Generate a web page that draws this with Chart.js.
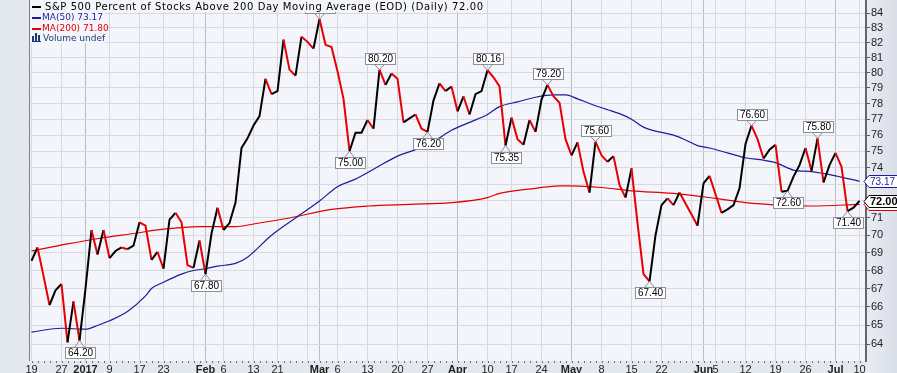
<!DOCTYPE html>
<html>
<head>
<meta charset="utf-8">
<script src="https://cdn.jsdelivr.net/npm/chart.js@4.4.1/dist/chart.umd.min.js"></script>
<style>
  html, body { margin: 0; padding: 0; background: #e3e7ee; }
  canvas { display: block; }
</style>
</head>
<body>
<canvas id="chart" width="897" height="373"></canvas>
<script>
// Daily closes, one per trading day from Dec 19 2016 to Jul 10 2017
const mainVals = [
  68.55, 69.3, 67.7, 66.1, 66.9, 67.25, 64.1, 66.3, 64.2, 67.0,
  70.3, 68.9, 70.3, 68.7, 69.1, 69.3, 69.2, 69.4, 70.75, 70.55,
  68.6, 69.05, 68.1, 70.9, 71.3, 70.75, 68.3, 68.15, 69.7, 67.8,
  70.1, 71.6, 70.3, 70.7, 71.9, 75.2, 75.8, 76.6, 77.2, 79.6,
  78.6, 78.8, 82.2, 80.2, 79.8, 82.4, 82.05, 81.6, 83.6, 81.85,
  81.7, 80.1, 78.3, 75.0, 76.15, 76.15, 76.95, 76.4, 80.2, 79.2,
  79.95, 79.6, 76.8, 77.05, 77.3, 76.4, 76.2, 78.2, 79.3, 78.8,
  79.1, 77.5, 78.45, 77.3, 78.6, 78.8, 80.16, 79.7, 79.1, 75.35,
  77.1, 75.75, 75.4, 76.95, 76.2, 78.25, 79.2, 78.45, 78.05, 75.75,
  74.75, 75.55, 73.75, 72.5, 75.6, 74.75, 74.35, 74.7, 72.95, 72.2,
  73.95, 70.7, 67.8, 67.4, 70.0, 71.75, 72.15, 71.75, 72.5, 71.85,
  71.2, 70.55, 73.05, 73.5, 72.4, 71.3, 71.5, 71.75, 72.75, 75.45,
  76.6, 75.75, 74.55, 75.1, 75.4, 72.55, 72.6, 73.45, 74.15, 75.2,
  73.8, 75.8, 73.1, 74.15, 74.9, 74.05, 71.4, 71.6, 72.0
];

// Moving averages read at selected days
const ma50Idx = [0, 5, 9, 11, 13, 16, 19, 20, 22, 25, 27, 29, 31, 34, 36, 40, 44, 48, 51, 54,
  57, 61, 64, 67, 70, 73, 76, 78, 81, 84, 87, 89, 91, 93, 96, 98, 100, 102, 104, 107,
  109, 111, 113, 116, 119, 122, 124, 127, 130, 134, 138];
const ma50Vals = [64.65, 64.85, 64.8, 65.0, 65.25, 65.75, 66.6, 67.0, 67.35, 67.8,
  68.0, 68.1, 68.25, 68.4, 68.75, 70.0, 71.0, 72.0, 72.85, 73.3,
  73.9, 74.7, 75.1, 75.6, 76.3, 76.8, 77.3, 77.8, 78.1, 78.4,
  78.55, 78.55, 78.3, 78.0, 77.6, 77.35, 77.0, 76.5, 76.25, 76.0,
  75.7, 75.35, 75.2, 74.9, 74.6, 74.45, 74.3, 73.85, 73.75, 73.5, 73.17];

const ma200Idx = [0, 6, 11, 17, 22, 28, 34, 37, 43, 50, 56, 63, 70, 76, 78, 84, 88, 90, 95, 100,
  107, 114, 119, 125, 130, 138];
const ma200Vals = [69.1, 69.5, 69.8, 70.1, 70.35, 70.5, 70.5, 70.65, 71.0, 71.5,
  71.7, 71.8, 71.9, 72.2, 72.45, 72.75, 72.9, 72.9, 72.8, 72.6,
  72.45, 72.15, 71.9, 71.75, 71.7, 71.8];

// x axis ticks (trading day index -> label)
const xTickIdx = [0, 5, 9, 13, 18, 22, 27, 29, 32, 37, 41, 46, 48, 51, 56, 61, 66, 71, 76, 80,
  85, 90, 95, 100, 105, 110, 112, 114, 119, 124, 129, 134, 138];
const xTickLabels = ['19', '27', '2017', '9', '17', '23', '', 'Feb', '6', '13', '21', '', 'Mar', '6', '13', '20', '27', 'Apr', '10', '17',
  '24', 'May', '8', '15', '22', '', 'Jun', '5', '12', '19', '26', 'Jul', '10'];
const boldLabels = ['2017', 'Feb', 'Mar', 'Apr', 'May', 'Jun', 'Jul'];

const yTicks = [64, 65, 66, 67, 68, 69, 70, 71, 72, 73, 74, 75, 76, 77, 78, 79, 80, 81, 82, 83, 84];

// high / low annotations
const markIdx = [8, 29, 48, 53, 58, 66, 76, 79, 86, 94, 103, 120, 126, 131, 136];
const markText = ['64.20', '67.80', '83.60', '75.00', '80.20', '76.20', '80.16', '75.35', '79.20', '75.60', '67.40', '76.60', '72.60', '75.80', '71.40'];
const markSide = ['below', 'below', 'above', 'below', 'above', 'below', 'above', 'below', 'above', 'above', 'below', 'above', 'below', 'above', 'below'];

const colors = {
  up: '#000000',
  down: '#e60000',
  ma50: '#1c1c9c',
  ma200: '#e00000',
  grid: '#d6d9e1',
  gridMonth: '#b9bdc8',
  plotBg: '#f4f5fa',
  outerBg: '#e3e7ee',
  volume: '#1d3a72'
};

const decorPlugin = {
  id: 'decor',
  beforeDraw(chart) {
    const { ctx, chartArea: a } = chart;
    ctx.save();
    ctx.fillStyle = colors.outerBg;
    ctx.fillRect(0, 0, chart.width, chart.height);
    const g = ctx.createLinearGradient(a.right, 0, chart.width, 0);
    g.addColorStop(0, '#e9ecf2');
    g.addColorStop(1, '#d9dee8');
    ctx.fillStyle = g;
    ctx.fillRect(a.right, 0, chart.width - a.right, chart.height);
    ctx.fillStyle = colors.plotBg;
    ctx.fillRect(a.left, a.top, a.right - a.left, a.bottom - a.top);
    ctx.restore();
  },
  afterDraw(chart) {
    const { ctx, chartArea: a } = chart;
    const xs = chart.scales.x, ys = chart.scales.y;
    ctx.save();

    // left border and daily dots on the bottom axis
    ctx.fillStyle = '#7a7e87';
    ctx.fillRect(a.left - 1, a.top, 1, a.bottom - a.top);
    ctx.fillStyle = '#6b6f78';
    for (let i = 0; i < mainVals.length; i++) {
      const px = Math.round(xs.getPixelForValue(i));
      ctx.fillRect(px, a.bottom, 1, 2);
    }

    // high / low boxes
    ctx.font = '10px "Liberation Sans"';
    ctx.lineWidth = 1;
    markIdx.forEach((i, k) => {
      const px = xs.getPixelForValue(i);
      const py = ys.getPixelForValue(mainVals[i]);
      const txt = markText[k];
      const w = Math.ceil(ctx.measureText(txt).width) + 4;
      const h = 11;
      const up = markSide[k] === 'above';
      const by = Math.round(up ? py - 6 - h : py + 6);
      const bx = Math.round(px - w / 2);
      const edge = up ? by + h : by;
      ctx.strokeStyle = '#8c9099';
      ctx.beginPath();
      ctx.moveTo(px - 5, edge + 0.5);
      ctx.lineTo(px, py);
      ctx.lineTo(px + 5, edge + 0.5);
      ctx.stroke();
      ctx.fillStyle = '#ffffff';
      ctx.fillRect(bx + 0.5, by + 0.5, w, h);
      ctx.strokeRect(bx + 0.5, by + 0.5, w, h);
      ctx.fillStyle = '#000000';
      ctx.textAlign = 'center';
      ctx.textBaseline = 'middle';
      ctx.fillText(txt, bx + 0.5 + w / 2, by + h / 2 + 1);
    });

    // value tags on the right axis
    const tag = (val, txt, stroke, bold) => {
      const y = Math.round(ys.getPixelForValue(val)) + 0.5;
      const x0 = a.right - 2;
      ctx.beginPath();
      ctx.moveTo(x0, y);
      ctx.lineTo(x0 + 5, y - 6);
      ctx.lineTo(chart.width + 2, y - 6);
      ctx.lineTo(chart.width + 2, y + 6);
      ctx.lineTo(x0 + 5, y + 6);
      ctx.closePath();
      ctx.fillStyle = '#ffffff';
      ctx.fill();
      ctx.strokeStyle = stroke;
      ctx.lineWidth = 1;
      ctx.stroke();
      ctx.fillStyle = stroke;
      ctx.font = (bold ? 'bold 11px' : '10px') + ' "Liberation Sans"';
      ctx.textAlign = 'left';
      ctx.textBaseline = 'middle';
      ctx.fillText(txt, x0 + 6, y + 0.5);
    };
    tag(ma200Vals[ma200Vals.length - 1], ma200Vals[ma200Vals.length - 1].toFixed(2), colors.ma200, false);
    tag(ma50Vals[ma50Vals.length - 1], ma50Vals[ma50Vals.length - 1].toFixed(2), colors.ma50, false);
    tag(mainVals[mainVals.length - 1], mainVals[mainVals.length - 1].toFixed(2), '#000000', true);

    // legend block
    const title = 'S&P 500 Percent of Stocks Above 200 Day Moving Average (EOD) (Daily) ' + mainVals[mainVals.length - 1].toFixed(2);
    ctx.fillStyle = colors.plotBg;
    ctx.fillRect(a.left, 0, 456, 12);
    ctx.fillRect(a.left, 12, 75, 31);
    ctx.textAlign = 'left';
    ctx.textBaseline = 'middle';
    ctx.font = '10px "DejaVu Sans"';
    const natural = ctx.measureText(title).width;
    if ('letterSpacing' in ctx) ctx.letterSpacing = ((438 - natural) / (title.length - 1)).toFixed(2) + 'px';
    ctx.fillStyle = '#000000';
    ctx.fillRect(32, 6, 9, 2);
    ctx.fillText(title, 45, 7.5);
    if ('letterSpacing' in ctx) ctx.letterSpacing = '0px';

    ctx.font = '9px "DejaVu Sans"';
    const rows = [
      ['MA(50) ' + ma50Vals[ma50Vals.length - 1].toFixed(2), colors.ma50, 17.5],
      ['MA(200) ' + ma200Vals[ma200Vals.length - 1].toFixed(2), colors.ma200, 28.5]
    ];
    rows.forEach(([txt, col, y]) => {
      ctx.fillStyle = col;
      ctx.fillRect(32, Math.round(y) - 1, 9, 2);
      ctx.fillText(txt, 42, y);
    });
    ctx.fillStyle = colors.volume;
    ctx.fillRect(32, 36, 2, 6);
    ctx.fillRect(35, 33, 2, 9);
    ctx.fillRect(38, 35, 2, 7);
    ctx.fillRect(32, 41, 9, 1);
    ctx.fillText('Volume undef', 43, 38.5);

    ctx.restore();
  }
};

const chart = new Chart(document.getElementById('chart').getContext('2d'), {
  type: 'line',
  data: {
    datasets: [
      {
        label: 'S&P 500 Percent of Stocks Above 200 Day Moving Average',
        data: mainVals.map((v, i) => ({ x: i, y: v })),
        borderColor: colors.up,
        borderWidth: 2,
        pointRadius: 0,
        tension: 0,
        segment: {
          borderColor: ctx => ctx.p1.parsed.y < ctx.p0.parsed.y ? colors.down : colors.up
        }
      },
      {
        label: 'MA(50)',
        data: ma50Idx.map((x, k) => ({ x, y: ma50Vals[k] })),
        borderColor: colors.ma50,
        borderWidth: 1.2,
        pointRadius: 0,
        cubicInterpolationMode: 'monotone'
      },
      {
        label: 'MA(200)',
        data: ma200Idx.map((x, k) => ({ x, y: ma200Vals[k] })),
        borderColor: colors.ma200,
        borderWidth: 1.2,
        pointRadius: 0,
        cubicInterpolationMode: 'monotone'
      }
    ]
  },
  options: {
    responsive: false,
    animation: false,
    devicePixelRatio: 1,
    events: [],
    layout: { padding: { left: 30, top: 0, right: 0, bottom: 0 } },
    plugins: {
      legend: { display: false },
      tooltip: { enabled: false }
    },
    scales: {
      x: {
        type: 'linear',
        min: -0.25,
        max: 139.08,
        afterBuildTicks: axis => { axis.ticks = xTickIdx.map(v => ({ value: v })); },
        afterFit: axis => { axis.height = 12; axis.paddingLeft = 0; axis.paddingRight = 0; },
        border: { display: false },
        grid: {
          drawTicks: false,
          color: ctx => {
            const k = ctx.tick ? xTickIdx.indexOf(ctx.tick.value) : -1;
            return k >= 0 && boldLabels.includes(xTickLabels[k]) ? colors.gridMonth : colors.grid;
          }
        },
        ticks: {
          autoSkip: false,
          maxRotation: 0,
          padding: 2,
          color: '#1e1e1e',
          font: ctx => ({
            family: 'Liberation Sans',
            size: 11,
            weight: ctx.tick && boldLabels.includes(ctx.tick.label) ? 'bold' : 'normal'
          }),
          callback: v => {
            const k = xTickIdx.indexOf(v);
            return k >= 0 ? xTickLabels[k] : '';
          }
        }
      },
      y: {
        type: 'logarithmic',
        position: 'right',
        min: 63.13,
        max: 84.92,
        afterBuildTicks: axis => { axis.ticks = yTicks.map(v => ({ value: v })); },
        afterFit: axis => { axis.width = 31; axis.paddingTop = 0; axis.paddingBottom = 0; },
        border: { display: true, color: '#62666f', width: 2 },
        grid: { color: colors.grid, tickColor: '#555a63', tickLength: 4 },
        ticks: {
          padding: 1,
          color: '#222222',
          font: { family: 'Liberation Sans', size: 11 },
          callback: v => String(v)
        }
      }
    }
  },
  plugins: [decorPlugin]
});
</script>
</body>
</html>
